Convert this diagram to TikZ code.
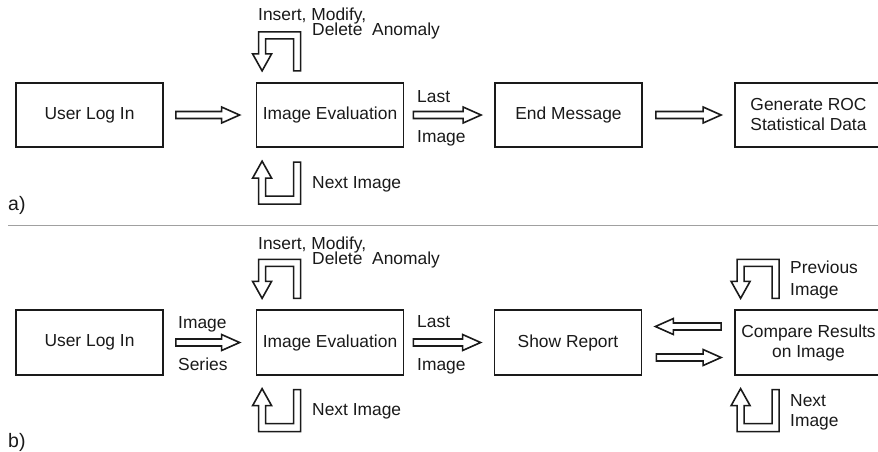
\documentclass[tikz,border=0pt]{standalone}
\usepackage{fontspec}
\setmainfont{Liberation Sans}
\usetikzlibrary{calc}
\definecolor{ink}{HTML}{1A1A1A}
\definecolor{rule}{HTML}{A0A0A0}
\newcommand\fs{\fontsize{17.4}{20}\selectfont}
\newcommand\fsbig{\fontsize{19.5}{22}\selectfont}
\tikzset{
  box/.style={draw=ink, line width=1.8pt, minimum width=147pt, minimum height=64.5pt,
    inner sep=0pt, font=\fs, text=ink, align=center},
  wide/.style={minimum width=155pt},
  lbl/.style={font=\fs, inner sep=0pt, text=ink, anchor=base west},
  tag/.style={font=\fsbig, inner sep=0pt, text=ink, anchor=base west},
  blk/.style={draw=ink, line width=1.6pt, line join=miter, fill=white},
}
% hollow block arrows between two named points
\newcommand\blkright[2]{\draw[blk] let \p1=(#1), \p2=(#2) in
  (\x1,\y1+3.5pt) -- (\x2-18pt,\y1+3.5pt) -- (\x2-18pt,\y1+8pt) -- (\x2,\y1)
  -- (\x2-18pt,\y1-8pt) -- (\x2-18pt,\y1-3.5pt) -- (\x1,\y1-3.5pt) -- cycle;}
\newcommand\blkleft[2]{\draw[blk] let \p1=(#1), \p2=(#2) in
  (\x1,\y1+3.5pt) -- (\x2+18pt,\y1+3.5pt) -- (\x2+18pt,\y1+8pt) -- (\x2,\y1)
  -- (\x2+18pt,\y1-8pt) -- (\x2+18pt,\y1-3.5pt) -- (\x1,\y1-3.5pt) -- cycle;}
% U-shaped self loops above and below a box
\newcommand\toploop[1]{\begin{scope}[shift={(#1.north west)}]
  \draw[blk] (45,-11) -- (45,-50) -- (3,-50) -- (3,-28) -- (-3,-28) -- (6.5,-11)
    -- (16,-28) -- (10,-28) -- (10,-43) -- (38,-43) -- (38,-11) -- cycle;
  \end{scope}}
\newcommand\bottomloop[1]{\begin{scope}[shift={(#1.south west)}]
  \draw[blk] (6.5,13) -- (16,30) -- (10,30) -- (10,48) -- (38,48) -- (38,14)
    -- (45,14) -- (45,56) -- (3,56) -- (3,30) -- (-3,30) -- cycle;
  \end{scope}}
\begin{document}
\begin{tikzpicture}[x=1pt,y=-1pt]
\useasboundingbox (0,0) rectangle (878,451);
\clip (0,0) rectangle (878,451);
\fill[white] (0,0) rectangle (878,451);

% ---------- a) ----------
\node[box] (a1) at (89.5,115) {User Log In};
\node[box] (a2) at (330,115) {Image Evaluation};
\node[box] (a3) at (568.5,115) {End Message};
\node[box, wide] (a4) at (812.5,115) {};
\node[font=\fs, text=ink, align=center, inner sep=0pt] (a4t) at (808.5,115) {Generate ROC\\Statistical Data};

\coordinate (a12s) at ($(a1.east)+(12,0)$);
\coordinate (a12e) at ($(a2.west)+(-16,0)$);
\blkright{a12s}{a12e}
\coordinate (a23s) at ($(a2.east)+(9,0)$);
\coordinate (a23e) at ($(a3.west)+(-13,0)$);
\blkright{a23s}{a23e}
\coordinate (a34s) at ($(a3.east)+(13,0)$);
\coordinate (a34e) at ($(a4.west)+(-13,0)$);
\blkright{a34s}{a34e}

\toploop{a2}
\bottomloop{a2}

\node[lbl] (a-ins) at (258,20) {Insert, Modify,};
\node[lbl] (a-del) at (312,35) {Delete\ \ Anomaly};
\node[lbl] (a-next) at (312,188) {Next Image};
\node[lbl] (a-last) at (417,102) {Last};
\node[lbl] (a-img) at (417,142.5) {Image};
\node[tag] (a-tag) at (8,210) {a)};

% separator
\draw[rule, line width=1pt] (8,225) -- (878,225);

% ---------- b) ----------
\node[box] (b1) at (89.5,342.5) {User Log In};
\node[box] (b2) at (330,342.5) {Image Evaluation};
\node[box] (b3) at (568,342.5) {Show Report};
\node[box, wide] (b4) at (812.5,342.5) {};
\node[font=\fs, text=ink, align=center, inner sep=0pt] (b4t) at (808.5,342.5) {Compare Results\\on Image};

\coordinate (b12s) at ($(b1.east)+(12,0)$);
\coordinate (b12e) at ($(b2.west)+(-16,0)$);
\blkright{b12s}{b12e}
\coordinate (b23s) at ($(b2.east)+(9,0)$);
\coordinate (b23e) at ($(b3.west)+(-13,0)$);
\blkright{b23s}{b23e}
\coordinate (b43s) at ($(b4.west)+(-13,-16)$);
\coordinate (b43e) at ($(b3.east)+(13,-16)$);
\blkleft{b43s}{b43e}
\coordinate (b34s) at ($(b3.east)+(14,15)$);
\coordinate (b34e) at ($(b4.west)+(-13,15)$);
\blkright{b34s}{b34e}

\toploop{b2}
\bottomloop{b2}
\toploop{b4}
\bottomloop{b4}

\node[lbl] (b-ins) at (258,249) {Insert, Modify,};
\node[lbl] (b-del) at (312,264) {Delete\ \ Anomaly};
\node[lbl] (b-next) at (312,415) {Next Image};
\node[lbl] (b-ser1) at (178,328) {Image};
\node[lbl] (b-ser2) at (178,370) {Series};
\node[lbl] (b-last) at (417,327) {Last};
\node[lbl] (b-img) at (417,370) {Image};
\node[lbl] (b-prev1) at (790,273) {Previous};
\node[lbl] (b-prev2) at (790,295) {Image};
\node[lbl] (b-nxt1) at (790,406) {Next};
\node[lbl] (b-nxt2) at (790,426) {Image};
\node[tag] (b-tag) at (8,447) {b)};
\end{tikzpicture}
\end{document}
